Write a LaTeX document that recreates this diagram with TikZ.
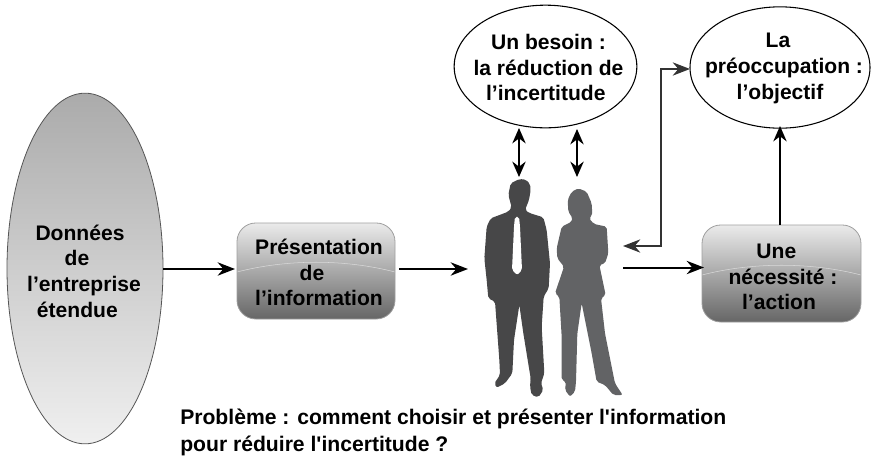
\documentclass[tikz,border=0pt]{standalone}
\usepackage{fontspec}
\setmainfont{Liberation Sans}
\newfontfamily\probfont{Liberation Sans}
\usetikzlibrary{arrows.meta,shapes.geometric}
\definecolor{sman}{HTML}{474748}
\definecolor{swoman}{HTML}{626365}
\definecolor{eline}{HTML}{555555}
\tikzset{
  x=0.75pt,y=-0.75pt,
  label text/.style={font=\bfseries\fontsize{15.8}{19.2}\selectfont,align=center,text=black,inner sep=0pt},
  oval/.style={ellipse,draw=black,line width=0.8pt,fill=white,inner sep=0pt},
  flow/.style={line width=1.5pt,-{Stealth[length=13pt,width=10pt]}},
  twoway/.style={line width=1.5pt,{Stealth[length=11.5pt,width=10pt]}-{Stealth[length=11.5pt,width=10pt]}},
  gbox/.style={rounded corners=14pt,draw=gray!75,line width=0.6pt}
}
\newcommand{\glossbox}[5]{% x1 y1 x2 y2 ymid
  \shade[rounded corners=14pt,top color=black!8,middle color=black!25,bottom color=black!60] (#1,#2) rectangle (#3,#4);
  \begin{scope}
    \clip[rounded corners=14pt] (#1,#2) rectangle (#3,#4);
    \draw[white!70!gray,line width=0.4pt] (#1,#5+10) .. controls ({#1+50},#5-3) and ({#3-50},#5-3) .. (#3,#5+10);
  \end{scope}
  \draw[gbox] (#1,#2) rectangle (#3,#4);
}
\begin{document}
\begin{tikzpicture}
\useasboundingbox (0,0) rectangle (871,458);
% silhouettes
\begin{scope}[shift={(440,120)},x=0.25pt,y=-0.25pt,rounded corners=1.5pt]
\fill[sman] (238,177) -- (258,179) -- (270,192) -- (272,210) -- (267,240) -- (255,270) -- (268,279) -- (310,292) -- (320,330) -- (330,430) -- (326,505) -- (311,530) -- (305,620) -- (313,760) -- (303,790) -- (310,810) -- (295,832) -- (275,825) -- (270,800) -- (272,775) -- (250,640) -- (238,555) -- (222,660) -- (217,760) -- (195,790) -- (170,803) -- (163,790) -- (180,765) -- (178,720) -- (165,545) -- (145,535) -- (140,480) -- (133,415) -- (140,320) -- (152,295) -- (205,275) -- (215,262) -- (205,225) -- (212,190) -- cycle;
\fill[white] (225,290) -- (237,290) -- (240,320) -- (246,450) -- (232,465) -- (216,450) -- (222,320) -- cycle;
\fill[swoman] (415,205) -- (440,215) -- (455,250) -- (457,285) -- (447,295) -- (462,312) -- (500,320) -- (505,400) -- (495,430) -- (478,435) -- (497,525) -- (483,535) -- (495,640) -- (525,790) -- (548,825) -- (520,825) -- (495,795) -- (470,785) -- (455,700) -- (425,550) -- (412,640) -- (408,785) -- (405,815) -- (390,830) -- (375,810) -- (378,785) -- (365,780) -- (365,650) -- (358,530) -- (345,520) -- (372,440) -- (352,415) -- (350,385) -- (365,320) -- (395,305) -- (398,295) -- (385,275) -- (383,240) -- (395,215) -- cycle;
\end{scope}
% left ellipse
\node[ellipse,minimum width=117pt,minimum height=263pt,inner sep=0pt,draw=eline,line width=0.6pt,top color=black!33,bottom color=black!6] (donnees) at (85,268.5) {};
\node[label text] (donneest) at (84,271.5) {Données\hspace*{6pt}\\\phantom{de}\\l’entreprise\\étendue\hspace*{10pt}};
\node[label text] (donneesde) at (77,258) {de};
% boxes
\glossbox{237}{223}{395}{319}{262}
\node[label text] (presn) at (319,272) {Présentation\\\phantom{de}\\l’information};
\node[label text] (presde) at (312,273) {de};
\glossbox{702}{225}{861}{322}{265}
\node[label text] (action) at (783,277) {Une\hspace*{10pt}\\nécessité :\\l’action\hspace*{6pt}};
% top ellipses
\node[oval,minimum width=137pt,minimum height=92pt] (besoin) at (545.5,66.5) {};
\node[label text] (besoint) at (548.5,67.5) {Un besoin :\\la réduction de\\l’incertitude\hspace*{4pt}};
\node[oval,minimum width=135pt,minimum height=91pt] (preoc) at (780,67.5) {};
\node[label text] (preoct) at (784,68.5) {La\hspace*{9pt}\\préoccupation :\\l’objectif\hspace*{6pt}};
% connectors
\coordinate (a1) at (163,269);
\coordinate (a2) at (235,269);
\draw[flow] (a1) -- (a2);
\coordinate (b1) at (399,269);
\coordinate (b2) at (468,269);
\draw[flow] (b1) -- (b2);
\coordinate (c1) at (623,267.5);
\coordinate (c2) at (704,267.5);
\draw[flow] (c1) -- (c2);
\coordinate (d1) at (780,225);
\coordinate (d2) at (780,126);
\draw[flow,-{Stealth[length=11.5pt,width=10pt]}] (d1) -- (d2);
\coordinate (e1) at (623,246);
\coordinate (e2) at (690,69);
\draw[line width=1pt,{Stealth[length=13pt,width=10pt]}-{Stealth[length=13pt,width=10pt]},draw=black!80] (e1) -- (661,246) -- (661,69) -- (e2);
\coordinate (f1) at (519,128);
\coordinate (f2) at (519,177);
\draw[twoway] (f1) -- (f2);
\coordinate (g1) at (577,129);
\coordinate (g2) at (577,177);
\draw[twoway] (g1) -- (g2);
\node[anchor=west,inner sep=0pt,font=\probfont\bfseries\fontsize{15.85}{20}\selectfont,align=left] (prob) at (180,432.5) {Problème : comment choisir et présenter l'information\\pour réduire l'incertitude ?};
\end{tikzpicture}
\end{document}
